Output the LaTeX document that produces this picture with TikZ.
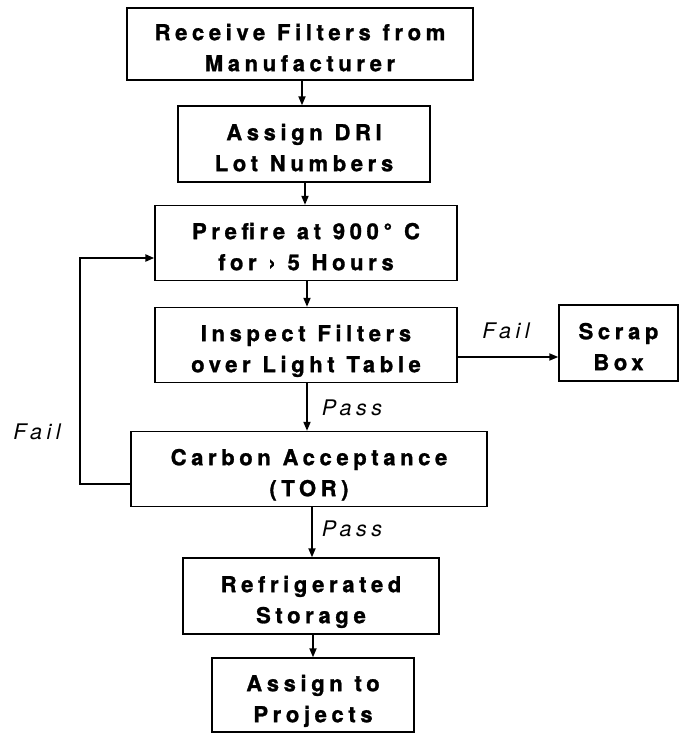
\documentclass[tikz,border=0pt]{standalone}
\usepackage{fontspec}
\setmainfont{TeX Gyre Heros}[LetterSpace=21,WordSpace=1.1,BoldFeatures={FakeBold=1.2}]
\usetikzlibrary{arrows.meta}
\newcommand\boxtext[2]{\raisebox{-5.5pt}[\height][\depth]{\begin{tabular}{@{}c@{}}#1\\#2\end{tabular}}}
\begin{document}
\begin{tikzpicture}[x=1pt,y=-1pt,
  box/.style={draw, line width=1.4pt, inner sep=0pt,
    font=\bfseries\fontsize{22}{31}\selectfont},
  lbl/.style={font=\itshape\fontsize{21.5}{22}\selectfont, inner sep=0pt},
  arr/.style={line width=1.8pt, -{Triangle[length=9pt,width=7pt]}},
  loop/.style={line width=2.6pt, -{Triangle[length=9pt,width=7pt]}}]
\useasboundingbox (0,0) rectangle (679,734);
\node[box, minimum width=346pt, minimum height=72pt] (b1) at (300,44) {\boxtext{Receive Filters from}{Manufacturer}};
\node[box, minimum width=252pt, minimum height=76pt] (b2) at (304,144) {\boxtext{Assign DRI}{Lot Numbers}};
\node[box, minimum width=302pt, minimum height=75pt] (b3) at (306,243) {\boxtext{Prefire at 900° C}{for › 5 Hours}};
\node[box, minimum width=302pt, minimum height=75pt] (b4) at (306,345) {\boxtext{Inspect Filters}{over Light Table}};
\node[box, minimum width=119pt, minimum height=76pt] (sb) at (618.5,343) {\boxtext{Scrap}{Box}};
\node[box, minimum width=356pt, minimum height=75pt] (b5) at (309,469) {\boxtext{Carbon Acceptance}{(TOR)}};
\node[box, minimum width=256pt, minimum height=76pt] (b6) at (311,596) {\boxtext{Refrigerated}{Storage}};
\node[box, minimum width=202pt, minimum height=74pt] (b7) at (313,695) {\boxtext{Assign to}{Projects}};
\coordinate (x1) at (302,0);
\coordinate (x2) at (305,0);
\coordinate (x3) at (307,0);
\coordinate (x5) at (312,0);
\coordinate (x6) at (313,0);
\coordinate (ys) at (0,357);
\coordinate (l1) at (80,484);
\coordinate (l2) at (80,258);
\draw[arr] (x1 |- b1.south) -- (x1 |- b2.north);
\draw[arr] (x2 |- b2.south) -- (x2 |- b3.north);
\draw[arr] (x3 |- b3.south) -- (x3 |- b4.north);
\draw[arr] (x3 |- b4.south) -- (x3 |- b5.north);
\draw[arr] (x5 |- b5.south) -- (x5 |- b6.north);
\draw[arr] (x6 |- b6.south) -- (x6 |- b7.north);
\draw[arr] (b4.east |- ys) -- (sb.west |- ys);
\draw[loop] (b5.west |- l1) -- (l1) -- (l2) -- (b3.west |- l2);
\node[lbl] (f1) at (506,331) {Fail};
\node[lbl] (f2) at (37,432) {Fail};
\node[lbl] (p1) at (352,408) {Pass};
\node[lbl] (p2) at (352,529) {Pass};
\end{tikzpicture}
\end{document}
